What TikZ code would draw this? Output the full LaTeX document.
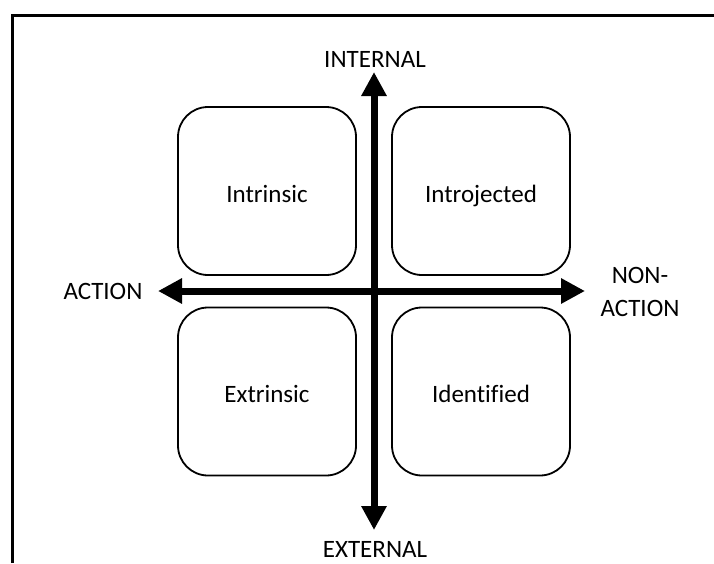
\documentclass[tikz,border=0pt]{standalone}
\usepackage{fontspec}
\setmainfont{Carlito}[Ligatures=NoCommon]
\usetikzlibrary{arrows.meta}
\begin{document}
\begin{tikzpicture}[x=1pt,y=-1pt,
  quad/.style={draw,line width=1.8pt,rounded corners=30pt,minimum width=178pt,minimum height=168pt,font=\fontsize{25}{30}\selectfont,text height=22pt,text depth=0pt},
  axis/.style={line width=7pt,-{Triangle[length=24pt,width=24pt]}},
  lbl/.style={font=\fontsize{25}{33}\selectfont,align=center}]
\useasboundingbox (0,0) rectangle (714,563);
% outer frame, open at the right and bottom
\draw[line width=3pt] (12,563) -- (12,15) -- (714,15);
% four quadrant boxes
\node[quad] (intr) at (267,191) {Intrinsic};
\node[quad] (intro) at (481,191) {Introjected};
\node[quad] (extr) at (267,391.5) {Extrinsic};
\node[quad] (iden) at (481,391.5) {Identified};
% axis end points
\coordinate (c) at (374,291);
\coordinate (up) at (374,72);
\coordinate (down) at (374,530);
\coordinate (left) at (158,291);
\coordinate (right) at (585,291);
\draw[axis] (c) -- (up);
\draw[axis] (c) -- (down);
\draw[axis] (c) -- (left);
\draw[axis] (c) -- (right);
% axis labels
\node[lbl] (tint) at (375,59) {INTERNAL};
\node[lbl] (text) at (375,549) {EXTERNAL};
\node[lbl] (tact) at (103,291) {ACTION};
\node[lbl] (tnon) at (640,292) {NON-\\ACTION};
\end{tikzpicture}
\end{document}
